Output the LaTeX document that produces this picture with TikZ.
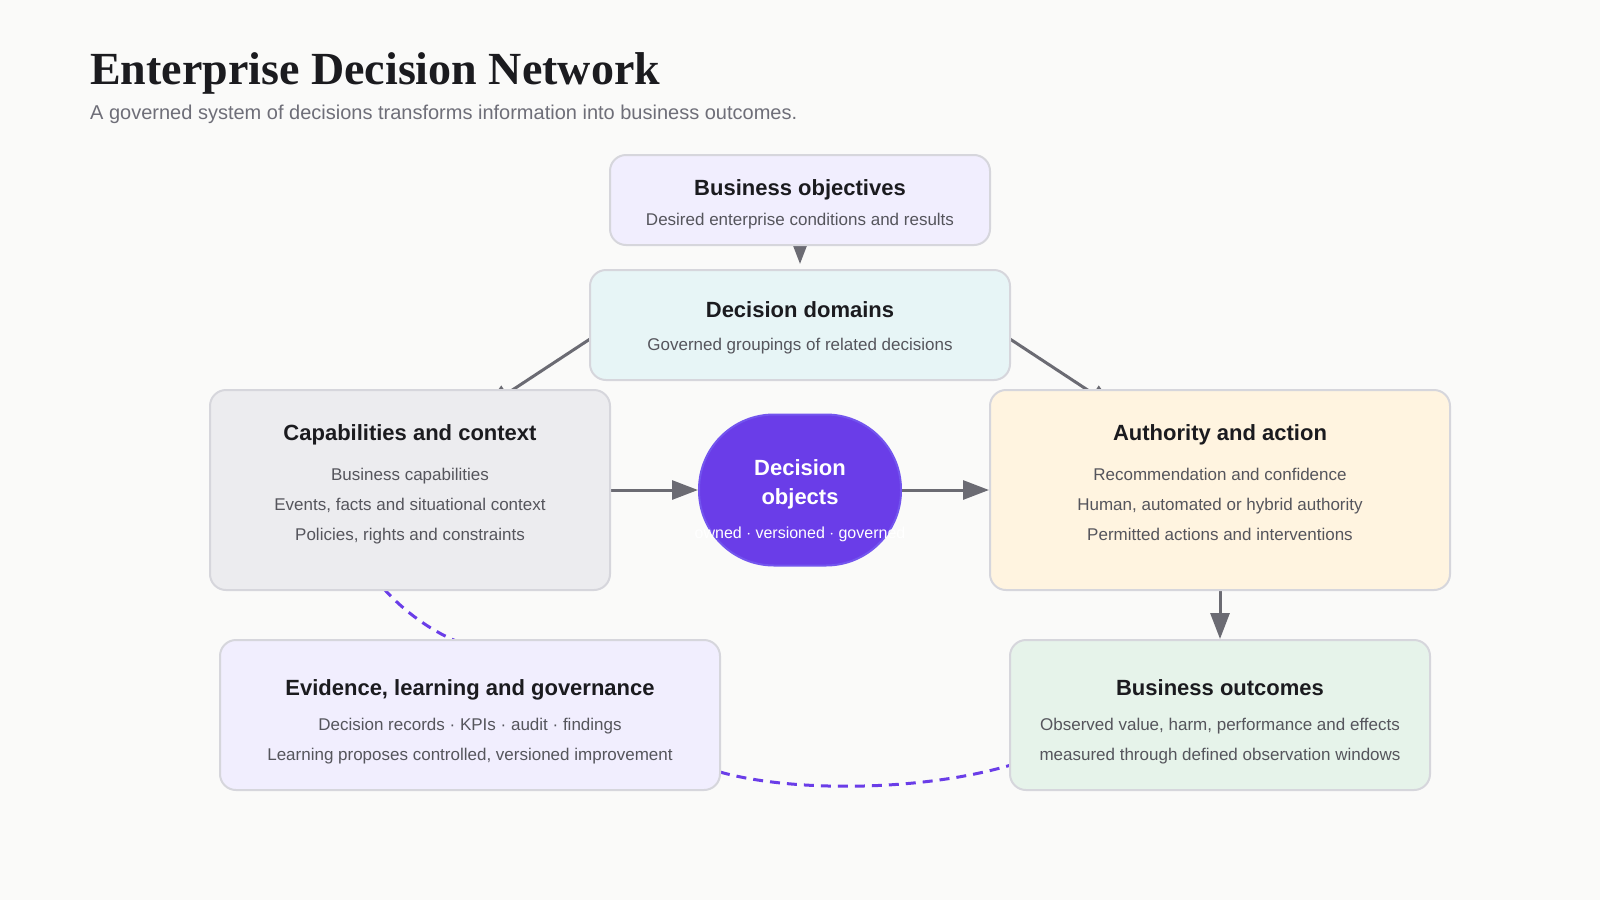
\documentclass[tikz,border=0pt]{standalone}
\usepackage{fontspec}
\setmainfont{Liberation Sans}
\newfontfamily\titleserif{Liberation Serif}
\usetikzlibrary{arrows.meta}
\pgfdeclarelayer{page}
\pgfdeclarelayer{bg}
\pgfsetlayers{page,bg,main}
\definecolor{pagebg}{HTML}{FAFAF9}
\definecolor{boxline}{HTML}{D6D6DC}
\definecolor{objfill}{HTML}{F1EEFE}
\definecolor{domfill}{HTML}{E7F5F6}
\definecolor{capfill}{HTML}{ECECEF}
\definecolor{authfill}{HTML}{FFF4E0}
\definecolor{evfill}{HTML}{F1EEFE}
\definecolor{outfill}{HTML}{E6F3EA}
\definecolor{dpurple}{HTML}{6A3DE8}
\definecolor{dpurpleline}{HTML}{7355EE}
\definecolor{arrowc}{HTML}{6B6B73}
\definecolor{titlec}{HTML}{1B1B1F}
\definecolor{subc}{HTML}{55555C}
\definecolor{headsub}{HTML}{6E6E78}
\begin{document}
\begin{tikzpicture}[x=1pt,y=-1pt,
  box/.style={draw=boxline, line width=2pt, rounded corners=16pt, inner sep=0pt},
  ttl/.style={font=\fontsize{22}{26}\selectfont\bfseries, text=titlec, anchor=base, inner sep=0pt},
  sub/.style={font=\fontsize{17}{20}\selectfont, text=subc, anchor=base, inner sep=0pt},
  arr/.style={draw=arrowc, line width=3pt, -{Triangle[length=26pt,width=19pt]}},
  dsh/.style={draw=dpurple, line width=3pt, dash pattern=on 10pt off 7pt}]
\begin{pgfonlayer}{page}
\fill[pagebg] (0,0) rectangle (1600,900);
\end{pgfonlayer}
\useasboundingbox (0,0) rectangle (1600,900);

% heading
\node[anchor=base west, inner sep=0pt, text=titlec, font=\titleserif\bfseries\fontsize{46}{50}\selectfont] (title) at (90,84) {Enterprise Decision Network};
\node[anchor=base west, inner sep=0pt, text=headsub, font=\fontsize{20}{24}\selectfont] (subtitle) at (90,119) {A governed system of decisions transforms information into business outcomes.};

% boxes
\node[box, fill=objfill, minimum width=380pt, minimum height=90pt] (obj) at (800,200) {};
\node[box, fill=domfill, minimum width=420pt, minimum height=110pt] (dom) at (800,325) {};
\node[box, fill=capfill, minimum width=400pt, minimum height=200pt] (cap) at (410,490) {};
\node[box, fill=authfill, minimum width=460pt, minimum height=200pt] (auth) at (1220,490) {};
\node[draw=dpurpleline, fill=dpurple, line width=2pt, rounded corners=75pt, minimum width=202pt, minimum height=151pt, inner sep=0pt] (dobj) at (800,490) {};
\node[box, fill=evfill, minimum width=500pt, minimum height=150pt] (ev) at (470,715) {};
\node[box, fill=outfill, minimum width=420pt, minimum height=150pt] (out) at (1220,715) {};

% connector helper coordinates
\coordinate (domL) at (590,339);
\coordinate (domR) at (1010,339);
\coordinate (capin) at (485,408);
\coordinate (authin) at (1115,408);
\coordinate (capd) at (384,589);
\coordinate (evd) at (456,641);
\coordinate (evr) at (720,772);
\coordinate (outl) at (1011,765);

\begin{pgfonlayer}{bg}
\draw[arr, shorten >=5pt] (obj.south) -- (dom.north);
\draw[arr] (domL) -- (capin);
\draw[arr] (domR) -- (authin);
\draw[arr] (cap.east) -- (dobj.west);
\draw[arr] (dobj.east) -- (auth.west);
\draw[arr] (auth.south) -- (out.north);
\draw[dsh] (capd) .. controls (405,612) and (430,630) .. (evd);
\draw[dsh] (evr) .. controls (790,792) and (920,792) .. (outl);
\end{pgfonlayer}

% texts
\node[ttl] (objt) at (800,195) {Business objectives};
\node[sub] (objs) at (800,225) {Desired enterprise conditions and results};

\node[ttl] (domt) at (800,317) {Decision domains};
\node[sub] (doms) at (800,350) {Governed groupings of related decisions};

\node[ttl] (capt) at (410,440) {Capabilities and context};
\node[sub] (cap1) at (410,480) {Business capabilities};
\node[sub] (cap2) at (410,510) {Events, facts and situational context};
\node[sub] (cap3) at (410,540) {Policies, rights and constraints};

\node[ttl] (autht) at (1220,440) {Authority and action};
\node[sub] (auth1) at (1220,480) {Recommendation and confidence};
\node[sub] (auth2) at (1220,510) {Human, automated or hybrid authority};
\node[sub] (auth3) at (1220,540) {Permitted actions and interventions};

\node[ttl, text=white] (dobt1) at (800,475) {Decision};
\node[ttl, text=white] (dobt2) at (800,504) {objects};
\node[anchor=base, inner sep=0pt, text=white, font=\fontsize{16}{19}\selectfont] (dobs) at (800,538) {owned $\cdot$ versioned $\cdot$ governed};

\node[ttl] (evt) at (470,695) {Evidence, learning and governance};
\node[sub] (ev1) at (470,730) {Decision records · KPIs · audit · findings};
\node[sub] (ev2) at (470,760) {Learning proposes controlled, versioned improvement};

\node[ttl] (outt) at (1220,695) {Business outcomes};
\node[sub] (out1) at (1220,730) {Observed value, harm, performance and effects};
\node[sub] (out2) at (1220,760) {measured through defined observation windows};
\end{tikzpicture}
\end{document}
